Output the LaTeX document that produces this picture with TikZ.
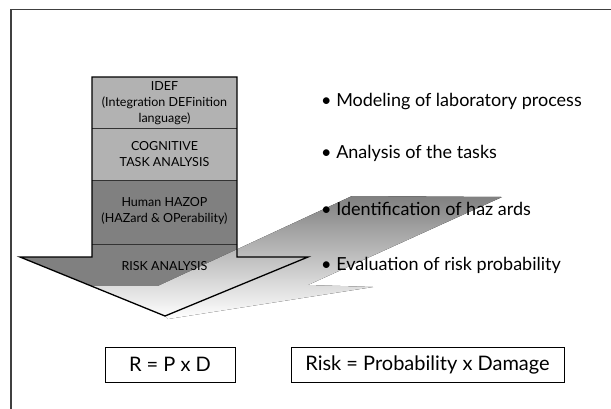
\documentclass[tikz,border=0pt]{standalone}
\usepackage{fontspec}
\setmainfont{Lato}
\usepackage{tikz}

\begin{document}
\begin{tikzpicture}[x=1pt, y=-1pt,
  steptext/.style = {align=center, font=\fontsize{12.5}{16}\selectfont, inner sep=0pt},
  bullettext/.style = {anchor=west, font=\fontsize{18}{20}\selectfont, inner sep=0pt},
  formula/.style = {draw, thick, inner sep=0pt, minimum height=35pt, font=\fontsize{20}{24}\selectfont}]
\useasboundingbox (0,0) rectangle (611,408);

\definecolor{lightstep}{gray}{0.70}
\definecolor{darkstep}{gray}{0.50}
\definecolor{shade}{gray}{0.81}

%% frame
\draw[line width=1.3pt, black!75] (11,9.5) rectangle (640,440);

%% arrow corners
\coordinate (tl) at (92,77);
\coordinate (tr) at (237,77);
\coordinate (bl) at (92,257);
\coordinate (br) at (237,257);
\coordinate (wl) at (20,257);
\coordinate (wr) at (308,257);
\coordinate (tip) at (165,316);

%% fills
\fill[lightstep] (92,77) rectangle (237,180);
\fill[darkstep] (92,180) rectangle (237,244);
\fill[darkstep] (92,244) -- (237,244) -- (br) -- (wr) -- (tip) -- (wl) -- (bl) -- cycle;

%% shadow
\fill[shade] (91,286) -- (158,286) -- (352,196) -- (502,197) -- (308,285)
  -- (373,287) -- (168,319) -- (tip) -- cycle;

%% separators
\draw[thin, black!80] (92,128.5) -- (237,128.5);
\draw[thin, black!80] (92,180) -- (237,180);
\draw[thin, black!80] (92,244) -- (237,244);

%% outline
\draw[line width=1.3pt, line join=miter] (tl) -- (bl) -- (wl) -- (tip) -- (wr) -- (br) -- (tr) -- cycle;

%% step labels
\node[steptext] (idef) at (164.5,103) {IDEF\\(Integration DEFinition\\language)};
\node[steptext] (cta) at (164.5,154) {COGNITIVE\\TASK ANALYSIS};
\node[steptext] (hazop) at (164.5,211.5) {Human HAZOP\\(HAZard \& OPerability)};
\node[steptext] (risk) at (164.5,266) {RISK ANALYSIS};

%% bullets
\node[bullettext] (b1) at (321,102) {\textbullet\ Modeling of laboratory process};
\node[bullettext] (b2) at (321,153) {\textbullet\ Analysis of the tasks};
\node[bullettext] (b3) at (321,209) {\textbullet\ Identification of haz ards};
\node[bullettext] (b4) at (321,265) {\textbullet\ Evaluation of risk probability};

%% formulas
\node[formula, minimum width=130pt] (rpd) at (170,364.5) {R = P x D};
\node[formula, minimum width=273pt] (rpd2) at (427.5,364.5) {Risk = Probability x Damage};

\end{tikzpicture}
\end{document}
